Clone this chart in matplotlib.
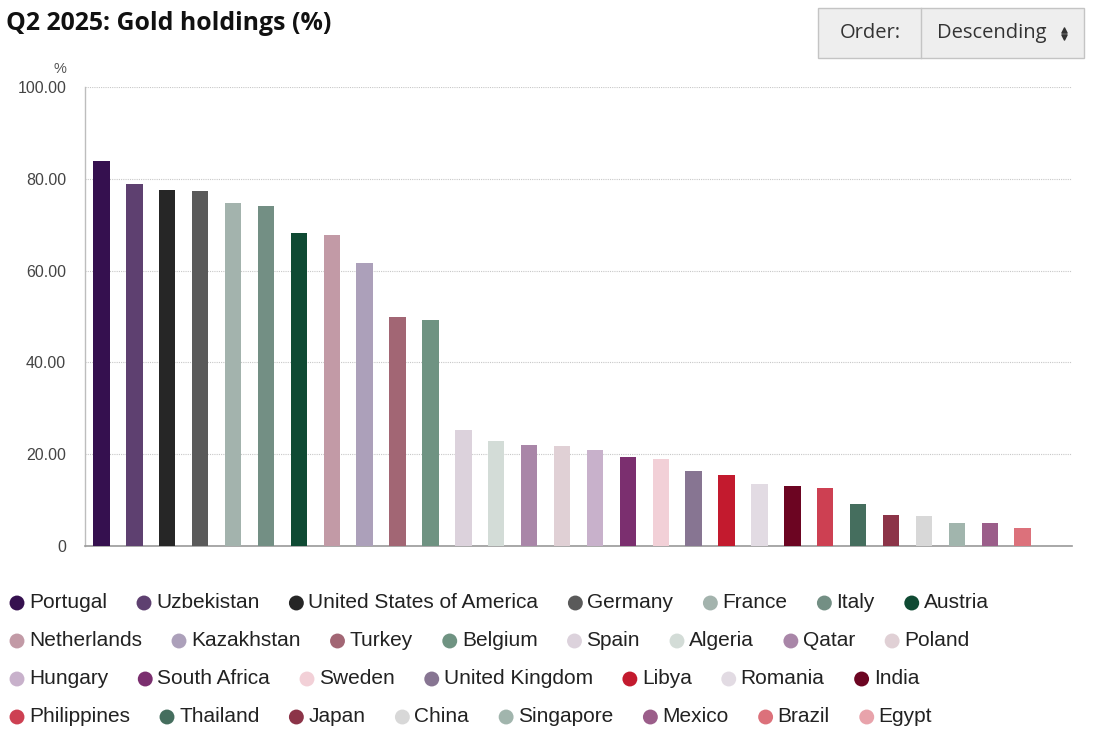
import matplotlib
matplotlib.use("Agg")
import matplotlib.pyplot as plt
from matplotlib.patches import Rectangle
import numpy as np

# Data
countries = [
    "Portugal", "Uzbekistan", "United States of America", "Germany", "France",
    "Italy", "Austria", "Netherlands", "Kazakhstan", "Turkey", "Belgium",
    "Spain", "Algeria", "Qatar", "Poland", "Hungary", "South Africa", "Sweden",
    "United Kingdom", "Libya", "Romania", "India", "Philippines", "Thailand",
    "Japan", "China", "Singapore", "Mexico", "Brazil", "Egypt",
]
gold_pct = [
    83.9, 78.9, 77.6, 77.3, 74.7, 74.1, 68.2, 67.8, 61.7, 49.9, 49.2,
    25.3, 22.9, 22.0, 21.8, 20.9, 19.4, 19.0, 16.3, 15.5, 13.5, 13.1, 12.6,
    9.2, 6.8, 6.5, 5.0, 5.0, 3.9, 0.0,
]
colors = [
    "#35104f", "#5e4070", "#262626", "#5a5a5a", "#a3b3ad", "#738f84", "#0f4a33",
    "#c29aa6", "#aca0ba", "#a26674", "#6f9382", "#dcd2dc", "#d3dcd7", "#a986a8",
    "#e0d0d5", "#c8b1cb", "#7b2f6f", "#f2d0d7", "#877592", "#c31a2e", "#e2dbe3",
    "#6c0522", "#cd4052", "#456e5e", "#8c3448", "#d8d8d8", "#a1b5ad", "#9b5e8a",
    "#dc717b", "#e8a3ab",
]
yticks = [0, 20, 40, 60, 80, 100]
ytick_labels = ["0", "20.00", "40.00", "60.00", "80.00", "100.00"]
legend_rows = [7, 8, 7, 8]  # items per legend line

W, H = 1096, 736
fig = plt.figure(figsize=(W / 100, H / 100), dpi=100)
fig.patch.set_facecolor("white")

# main chart axes (pixel box: x 85..1072, y 87..546)
ax = fig.add_axes([85 / W, (H - 546) / H, (1072 - 85) / W, (546 - 87) / H])
x = np.arange(len(countries))
ax.bar(x, gold_pct, width=0.5, color=colors, zorder=3)
ax.set_xlim(-0.5, len(countries) - 0.5)
ax.set_ylim(0, 100)
ax.set_yticks(yticks)
ax.set_yticklabels(ytick_labels, fontfamily="Liberation Sans", fontsize=11.5, color="#444444")
ax.set_xticks([])
ax.tick_params(axis="y", length=0, pad=13.5)
ax.grid(axis="y", color="#c8c8c8", linestyle=(0, (1, 1)), linewidth=0.8, zorder=0)
for s in ["top", "right"]:
    ax.spines[s].set_visible(False)
ax.spines["left"].set_color("#bdbdbd")
ax.spines["bottom"].set_color("#999999")
ax.spines["left"].set_linewidth(1)
ax.spines["bottom"].set_linewidth(1.2)

# overlay axes in pixel coordinates for title, widget and legend
ov = fig.add_axes([0, 0, 1, 1], zorder=5)
ov.set_xlim(0, W)
ov.set_ylim(H, 0)
ov.axis("off")
ov.patch.set_alpha(0)

ov.text(6, 24, "Q2 2025: Gold holdings (%)", fontfamily="Open Sans", fontweight="bold",
        fontsize=17.9, color="#111111", va="center", ha="left")
ov.text(60, 69, "%", fontfamily="Liberation Sans", fontsize=10.5, color="#555555",
        ha="center", va="center")

# order widget
ov.add_patch(Rectangle((818, 8), 266, 50, facecolor="#eeeeee", edgecolor="#c4c4c4", linewidth=1))
ov.plot([921, 921], [8, 58], color="#c4c4c4", linewidth=1)
ov.text(870, 33, "Order:", fontfamily="Open Sans", fontsize=14.5, color="#333333",
        ha="center", va="center")
ov.text(937, 33, "Descending", fontfamily="Open Sans", fontsize=14.5, color="#333333",
        ha="left", va="center")
ov.scatter([1064], [29.5], marker="^", s=14, color="#333333")
ov.scatter([1064], [36.5], marker="v", s=14, color="#333333")

# legend, laid out line by line like inline html items
fig.canvas.draw()
renderer = fig.canvas.get_renderer()
row_y = [603, 641, 679, 717]
idx = 0
for r, n in enumerate(legend_rows):
    cx = 11
    y = row_y[r]
    for name, c in zip(countries[idx:idx + n], colors[idx:idx + n]):
        t = ov.text(cx + 18, y, name, fontfamily="Liberation Sans", fontsize=15,
                    color="#222222", ha="left", va="center")
        w = t.get_window_extent(renderer).width
        ov.scatter([cx + 6], [y], s=115, color=c, edgecolors="none")
        cx = cx + 18 + w + 31
    idx += n

fig.savefig("out.png", dpi=100)
